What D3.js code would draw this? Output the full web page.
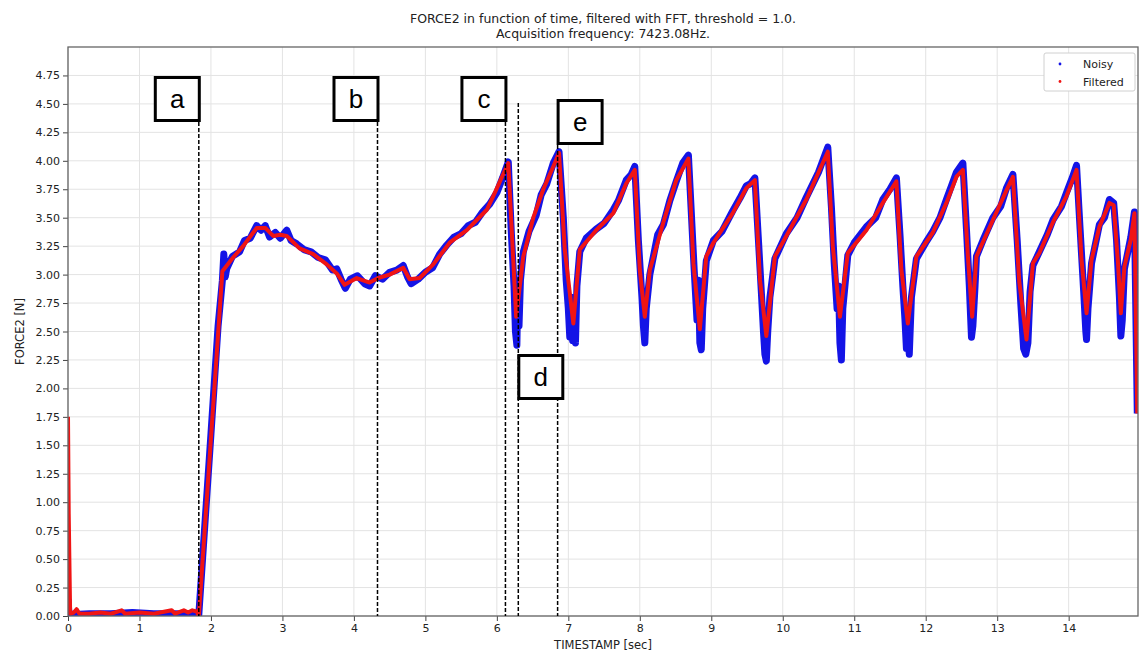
<!DOCTYPE html>
<html lang="en">

<head>
    <meta charset="UTF-8" />
    <style>
        body { margin: 0; background: #fff; }
        text { font-family: "DejaVu Sans", sans-serif; fill: #222; }
    </style>
</head>

<body>
    <svg width="1140" height="654"></svg>
    <script src="https://d3js.org/d3.v7.min.js"></script>
    <script>
        // filtered signal [time (s), force (N)]
        var filtered = [
            [0, 1.75], [0.01, 0.9], [0.03, 0.02], [0.08, 0.03], [0.12, 0.06], [0.16, 0.02], [0.3, 0.02],
            [0.45, 0.03], [0.6, 0.02], [0.75, 0.05], [0.8, 0.02], [1.0, 0.03], [1.2, 0.02], [1.45, 0.05],
            [1.5, 0.02], [1.62, 0.05], [1.68, 0.03], [1.74, 0.05], [1.8, 0.04], [1.83, 0.0],
            [2.16, 3.03], [2.31, 3.15], [2.45, 3.25], [2.64, 3.41], [2.76, 3.41], [2.87, 3.34], [2.97, 3.35],
            [3.06, 3.34], [3.24, 3.23], [3.43, 3.18], [3.62, 3.09], [3.76, 3.01], [3.87, 2.91], [4.04, 2.97],
            [4.22, 2.93], [4.34, 2.97], [4.5, 3.0], [4.69, 3.06], [4.78, 2.96], [4.92, 2.97], [5.11, 3.09],
            [5.34, 3.28], [5.58, 3.39], [5.86, 3.57], [5.95, 3.69], [6.11, 3.91], [6.16, 3.98],
            [6.27, 2.63], [6.37, 3.16], [6.51, 3.50], [6.65, 3.75], [6.79, 3.95], [6.87, 4.07],
            [6.95, 3.22], [7.07, 2.57], [7.16, 3.22], [7.39, 3.39], [7.63, 3.54], [7.81, 3.80], [7.93, 3.92],
            [8.0, 3.04], [8.07, 2.63], [8.14, 3.04], [8.33, 3.46], [8.51, 3.83], [8.68, 4.02],
            [8.75, 3.10], [8.84, 2.52], [8.93, 3.16], [9.03, 3.28], [9.30, 3.54], [9.49, 3.76], [9.61, 3.83],
            [9.68, 2.96], [9.77, 2.46], [9.89, 3.16], [10.05, 3.34], [10.33, 3.66], [10.63, 4.08],
            [10.70, 3.25], [10.80, 2.63], [10.91, 3.19], [11.17, 3.39], [11.40, 3.63], [11.59, 3.82],
            [11.66, 3.04], [11.75, 2.57], [11.87, 3.16], [12.10, 3.37], [12.29, 3.63], [12.43, 3.86], [12.52, 3.92],
            [12.59, 3.16], [12.65, 2.63], [12.71, 3.16], [12.94, 3.48], [13.13, 3.74], [13.22, 3.86],
            [13.31, 2.93], [13.41, 2.43], [13.50, 3.10], [13.59, 3.19], [13.78, 3.46], [13.97, 3.69], [14.11, 3.92],
            [14.18, 3.13], [14.25, 2.66], [14.32, 3.13], [14.43, 3.42], [14.57, 3.63], [14.63, 3.61],
            [14.69, 3.10], [14.73, 2.66], [14.78, 3.07], [14.87, 3.31], [14.92, 3.54], [14.96, 1.78]
        ];

        // noisy signal, same reading with the scatter spread and the spikes at the dips
        var noisy = [
            [0, 0.15], [0.01, 0.05], [0.03, 0.01], [0.3, 0.02], [0.6, 0.02], [0.9, 0.03], [1.2, 0.02], [1.5, 0.02], [1.83, 0.01],
            [2.0, 1.6], [2.1, 2.55], [2.16, 2.95], [2.18, 3.18], [2.2, 2.98], [2.22, 3.05], [2.3, 3.16], [2.4, 3.2],
            [2.47, 3.3], [2.55, 3.32], [2.64, 3.43], [2.7, 3.39], [2.76, 3.43], [2.82, 3.33], [2.9, 3.37], [2.97, 3.32],
            [3.06, 3.39], [3.12, 3.3], [3.2, 3.27], [3.3, 3.22], [3.4, 3.2], [3.5, 3.15], [3.6, 3.13], [3.7, 3.04],
            [3.76, 3.05], [3.82, 2.96], [3.88, 2.88], [3.95, 2.96], [4.05, 2.99], [4.15, 2.92], [4.22, 2.9], [4.3, 2.99],
            [4.4, 2.96], [4.5, 3.02], [4.6, 3.04], [4.69, 3.08], [4.75, 2.98], [4.8, 2.92], [4.9, 2.96], [5.0, 3.02],
            [5.1, 3.06], [5.2, 3.18], [5.3, 3.26], [5.4, 3.33], [5.5, 3.36], [5.6, 3.43], [5.7, 3.46], [5.8, 3.55],
            [5.9, 3.62], [6.0, 3.72], [6.08, 3.85], [6.16, 3.99],
            [6.2, 3.4], [6.24, 2.9], [6.26, 2.5], [6.28, 2.38], [6.29, 2.75], [6.31, 2.55], [6.33, 2.95], [6.37, 3.2],
            [6.45, 3.38], [6.55, 3.52], [6.62, 3.7], [6.7, 3.8], [6.79, 3.98], [6.87, 4.08],
            [6.93, 3.5], [6.97, 2.95], [7.0, 2.7], [7.02, 2.45], [7.04, 2.8], [7.06, 2.42], [7.08, 2.75], [7.1, 2.4],
            [7.12, 2.9], [7.16, 3.2], [7.25, 3.32], [7.39, 3.4], [7.5, 3.45], [7.63, 3.57], [7.7, 3.65], [7.81, 3.83],
            [7.88, 3.88], [7.93, 3.95],
            [7.98, 3.3], [8.03, 2.8], [8.05, 2.55], [8.07, 2.4], [8.09, 2.7], [8.14, 3.0], [8.25, 3.35], [8.33, 3.44],
            [8.42, 3.65], [8.51, 3.82], [8.6, 3.98], [8.68, 4.05],
            [8.72, 3.55], [8.76, 3.05], [8.8, 2.6], [8.82, 2.95], [8.84, 2.4], [8.86, 2.34], [8.88, 2.7], [8.93, 3.12],
            [9.03, 3.3], [9.15, 3.38], [9.30, 3.56], [9.4, 3.67], [9.49, 3.78], [9.55, 3.8], [9.61, 3.85],
            [9.66, 3.3], [9.7, 2.85], [9.73, 2.5], [9.75, 2.3], [9.77, 2.24], [9.79, 2.5], [9.82, 2.8], [9.89, 3.14],
            [10.05, 3.36], [10.2, 3.5], [10.33, 3.68], [10.5, 3.9], [10.63, 4.12],
            [10.68, 3.6], [10.72, 3.1], [10.76, 2.7], [10.78, 2.9], [10.8, 2.4], [10.82, 2.25], [10.84, 2.7], [10.91, 3.17],
            [11.0, 3.28], [11.17, 3.42], [11.3, 3.5], [11.4, 3.66], [11.5, 3.75], [11.59, 3.85],
            [11.64, 3.35], [11.68, 2.9], [11.71, 2.6], [11.73, 2.35], [11.75, 2.45], [11.77, 2.3], [11.8, 2.8], [11.87, 3.14],
            [12.0, 3.28], [12.10, 3.38], [12.2, 3.5], [12.29, 3.66], [12.36, 3.78], [12.43, 3.9], [12.52, 3.98],
            [12.57, 3.4], [12.61, 2.9], [12.64, 2.45], [12.66, 2.55], [12.69, 2.9], [12.71, 3.16], [12.8, 3.3],
            [12.94, 3.5], [13.05, 3.6], [13.13, 3.76], [13.22, 3.88],
            [13.28, 3.3], [13.33, 2.75], [13.37, 2.35], [13.4, 2.3], [13.43, 2.4], [13.46, 2.85], [13.5, 3.08],
            [13.59, 3.2], [13.7, 3.35], [13.78, 3.48], [13.9, 3.6], [13.97, 3.72], [14.05, 3.85], [14.11, 3.96],
            [14.16, 3.4], [14.21, 2.85], [14.24, 2.5], [14.25, 2.43], [14.27, 2.7], [14.32, 3.1], [14.43, 3.44],
            [14.5, 3.5], [14.57, 3.66], [14.63, 3.63],
            [14.67, 3.3], [14.71, 2.8], [14.73, 2.46], [14.75, 2.6], [14.78, 3.05], [14.87, 3.33], [14.92, 3.55], [14.96, 1.78]
        ];

        var markerLabels = ["a", "b", "c", "d", "e"];
        var markerTimes = [1.83, 4.33, 6.12, 6.30, 6.85];

        var xTicks = d3.range(0, 15, 1);
        var yTicks = d3.range(0, 4.76, 0.25);

        var titleLines = [
            "FORCE2 in function of time, filtered with FFT, threshold = 1.0.",
            "Acquisition frequency: 7423.08Hz."
        ];

        var svg = d3.select("svg"),
            pLeft = 68, pRight = 1138, pTop = 47, pBottom = 616;

        var x = d3.scaleLinear().domain([0, 14.97]).range([pLeft, pRight]);
        var y = d3.scaleLinear().domain([0, 5.0]).range([pBottom, pTop]);

        svg.append("defs").append("clipPath").attr("id", "plot")
            .append("rect")
            .attr("x", pLeft).attr("y", pTop)
            .attr("width", pRight - pLeft).attr("height", pBottom - pTop);

        // grid
        svg.append("g")
            .selectAll("line")
            .data(xTicks)
            .enter().append("line")
            .attr("x1", d => x(d)).attr("x2", d => x(d))
            .attr("y1", pTop).attr("y2", pBottom)
            .style("stroke", "#e3e3e3");

        svg.append("g")
            .selectAll("line")
            .data(yTicks)
            .enter().append("line")
            .attr("x1", pLeft).attr("x2", pRight)
            .attr("y1", d => y(d)).attr("y2", d => y(d))
            .style("stroke", "#e3e3e3");

        // data
        var line = d3.line().x(d => x(d[0])).y(d => y(d[1]));
        var plot = svg.append("g").attr("clip-path", "url(#plot)");

        plot.append("path")
            .datum(noisy)
            .attr("d", line)
            .style("fill", "none")
            .style("stroke", "#1414e6")
            .style("stroke-width", 7)
            .style("stroke-linejoin", "round");

        plot.append("path")
            .datum(filtered)
            .attr("d", line)
            .style("fill", "none")
            .style("stroke", "#f01414")
            .style("stroke-width", 4)
            .style("stroke-linejoin", "round");

        // axes
        var xAxis = svg.append("g")
            .attr("transform", "translate(0," + pBottom + ")")
            .call(d3.axisBottom(x).tickValues(xTicks).tickSize(5).tickPadding(3).tickFormat(d3.format("d")));
        var yAxis = svg.append("g")
            .attr("transform", "translate(" + pLeft + ",0)")
            .call(d3.axisLeft(y).tickValues(yTicks).tickSize(5).tickPadding(3).tickFormat(d3.format(".2f")));

        [xAxis, yAxis].forEach(function (g) {
            g.select(".domain").remove();
            g.selectAll("line").style("stroke", "#444");
            g.selectAll("text").style("font-size", "11px").style("fill", "#222").style("font-family", "DejaVu Sans");
        });

        svg.append("rect")
            .attr("x", pLeft).attr("y", pTop)
            .attr("width", pRight - pLeft).attr("height", pBottom - pTop)
            .style("fill", "none")
            .style("stroke", "#666")
            .style("stroke-width", 1.3);

        // annotation lines and boxes
        var boxW = 44, boxH = 43;
        var boxes = [
            { side: "left", top: 77.5, lineTop: 122 },
            { side: "left", top: 77.5, lineTop: 122 },
            { side: "left", top: 77.5, lineTop: 122 },
            { side: "right", top: 355.5, lineTop: 103 },
            { side: "right", top: 100.5, lineTop: 145 }
        ];

        var ann = svg.append("g");
        markerTimes.forEach(function (t, i) {
            ann.append("line")
                .attr("x1", x(t)).attr("x2", x(t))
                .attr("y1", boxes[i].lineTop).attr("y2", pBottom)
                .style("stroke", "#000")
                .style("stroke-width", 1.5)
                .style("stroke-dasharray", "4,2");
        });
        markerTimes.forEach(function (t, i) {
            var b = boxes[i];
            var bx = b.side === "left" ? x(t) - boxW + 0.5 : x(t) + 0.5;
            ann.append("rect")
                .attr("x", bx).attr("y", b.top)
                .attr("width", boxW).attr("height", boxH)
                .style("fill", "#fff")
                .style("stroke", "#000")
                .style("stroke-width", 3);
            ann.append("text")
                .attr("x", bx + boxW / 2).attr("y", b.top + boxH / 2 + 9)
                .attr("text-anchor", "middle")
                .style("font-family", "Liberation Sans, Arial, sans-serif")
                .style("font-size", "26px")
                .style("fill", "#000")
                .text(markerLabels[i]);
        });

        // titles
        svg.selectAll("text.title")
            .data(titleLines)
            .enter().append("text")
            .attr("class", "title")
            .attr("x", (pLeft + pRight) / 2)
            .attr("y", (d, i) => 23 + i * 14.5)
            .attr("text-anchor", "middle")
            .style("font-size", "12.5px")
            .text(d => d);

        svg.append("text")
            .attr("x", (pLeft + pRight) / 2).attr("y", 649)
            .attr("text-anchor", "middle")
            .style("font-size", "11.5px")
            .text("TIMESTAMP [sec]");

        svg.append("text")
            .attr("transform", "translate(24," + (pTop + pBottom) / 2 + ") rotate(-90)")
            .attr("text-anchor", "middle")
            .style("font-size", "11.5px")
            .text("FORCE2 [N]");

        // legend
        var legend = svg.append("g");
        legend.append("rect")
            .attr("x", 1044).attr("y", 53)
            .attr("width", 91).attr("height", 38)
            .attr("rx", 2)
            .style("fill", "#fff")
            .style("stroke", "#d0d0d0");
        [["Noisy", "#1414e6"], ["Filtered", "#f01414"]].forEach(function (e, i) {
            legend.append("circle")
                .attr("cx", 1060).attr("cy", 64 + i * 17.5)
                .attr("r", 1.4)
                .style("fill", e[1]);
            legend.append("text")
                .attr("x", 1083).attr("y", 68 + i * 17.5)
                .style("font-size", "11px")
                .text(e[0]);
        });
    </script>
</body>

</html>
